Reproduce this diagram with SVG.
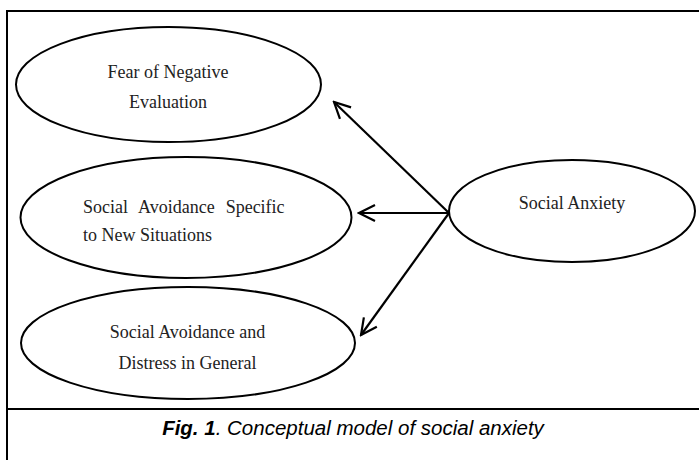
<svg xmlns="http://www.w3.org/2000/svg" width="699" height="460" viewBox="0 0 699 460">
<style>
.node{fill:#fff;stroke:#000;stroke-width:2}
.lbl{font-family:"Liberation Serif","Times New Roman",serif;font-size:18px;fill:#222}
.edge{stroke:#000;stroke-width:2.2;fill:none}
.frame{stroke:#000;stroke-width:2;fill:none}
.cap{font-family:"Liberation Sans",Arial,sans-serif;font-size:20.5px;font-style:italic;fill:#000}
</style>
<defs>
<marker id="arr" viewBox="0 0 20 20" refX="18" refY="10" markerWidth="20" markerHeight="20" markerUnits="userSpaceOnUse" orient="auto">
<path d="M2,2 L18,10 L2,18" fill="none" stroke="#000" stroke-width="2.2"/>
</marker>
</defs>
<rect width="699" height="460" fill="#fff"/>
<path class="frame" d="M7,460 L7,11 L699,11"/>
<line class="frame" x1="7" y1="409" x2="699" y2="409"/>
<g id="connectors">
<line class="edge" x1="449" y1="213" x2="334" y2="102" marker-end="url(#arr)"/>
<line class="edge" x1="449" y1="213" x2="359" y2="213" marker-end="url(#arr)"/>
<line class="edge" x1="449" y1="213" x2="361" y2="335" marker-end="url(#arr)"/>
</g>
<g id="fear">
<ellipse class="node" cx="168.5" cy="84.5" rx="152.5" ry="57.5"/>
<text class="lbl" x="168" y="78" text-anchor="middle">Fear of Negative</text>
<text class="lbl" x="168" y="108" text-anchor="middle">Evaluation</text>
</g>
<g id="avoid-new">
<ellipse class="node" cx="186" cy="217.5" rx="165.5" ry="60.5"/>
<text class="lbl" x="83" y="213" word-spacing="6.5">Social Avoidance Specific</text>
<text class="lbl" x="83" y="241">to New Situations</text>
</g>
<g id="avoid-general">
<ellipse class="node" cx="188" cy="343" rx="167" ry="56"/>
<text class="lbl" x="187.5" y="338" text-anchor="middle">Social Avoidance and</text>
<text class="lbl" x="187.5" y="369" text-anchor="middle">Distress in General</text>
</g>
<g id="social-anxiety">
<ellipse class="node" cx="572" cy="211" rx="123" ry="51"/>
<text class="lbl" x="572" y="209" text-anchor="middle">Social Anxiety</text>
</g>
<text class="cap" x="353" y="435" text-anchor="middle"><tspan font-weight="bold">Fig. 1</tspan>. Conceptual model of social anxiety</text>
</svg>
